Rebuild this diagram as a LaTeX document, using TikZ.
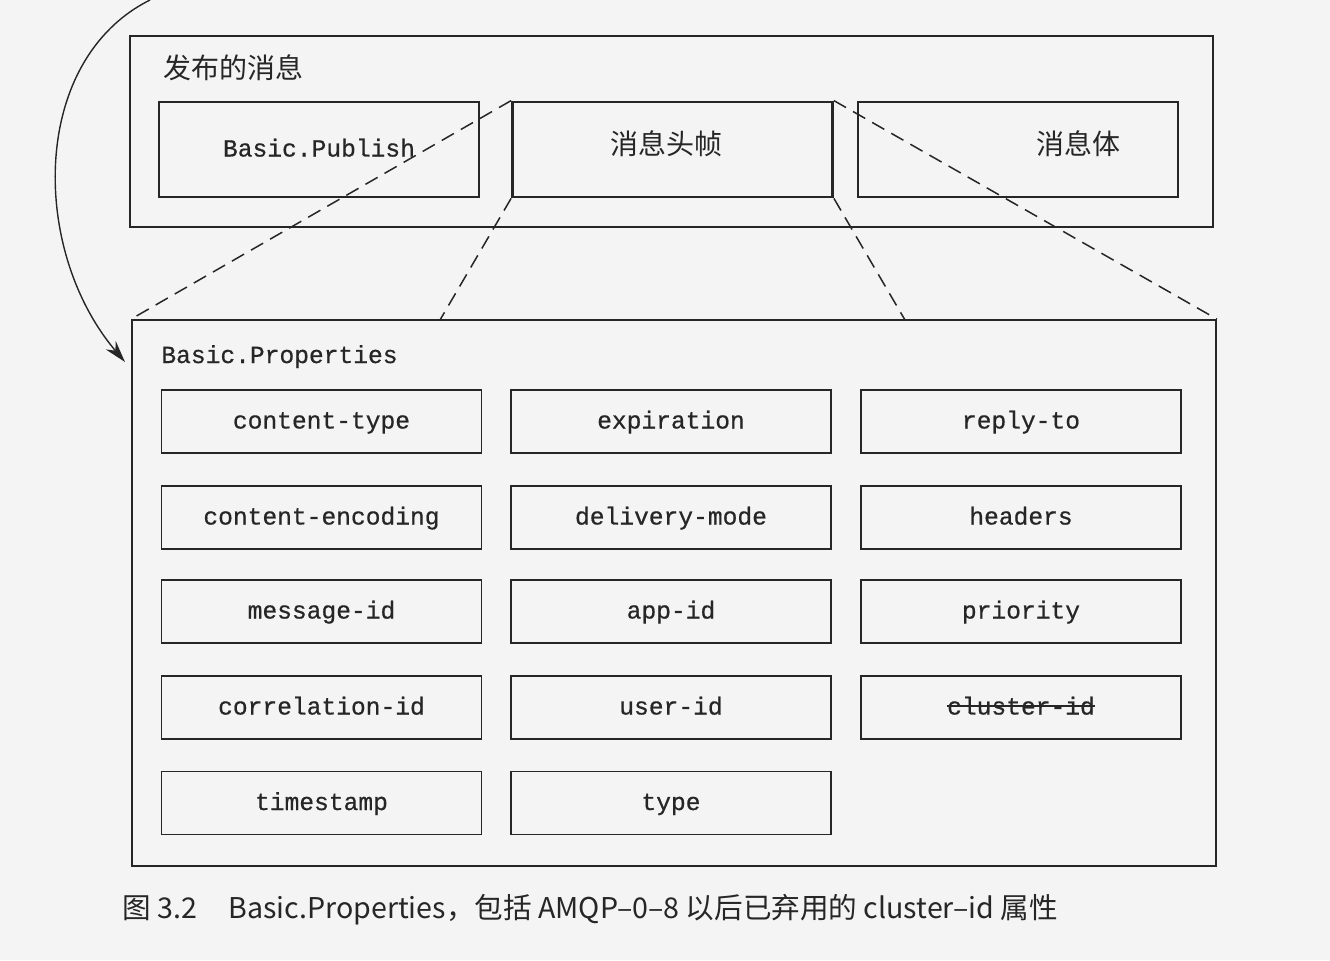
\documentclass[tikz,border=0pt]{standalone}
\usepackage{fontspec}
\setmonofont[FakeBold=0.6]{Liberation Mono}
\newfontfamily\cjk{Noto Sans CJK SC}
\usetikzlibrary{arrows.meta}
\definecolor{ink}{HTML}{262626}
\definecolor{paper}{HTML}{F4F4F4}

\begin{document}
\begin{tikzpicture}[x=0.5pt,y=-0.5pt,
		every node/.style={inner sep=0pt,text=ink},
		frame/.style={draw=ink,line width=0.9pt,rectangle},
		part/.style={frame,minimum width=160pt,minimum height=47.5pt},
		mono/.style={font=\ttfamily\fontsize{12.3}{14}\selectfont,text height=9.5pt,text depth=2.5pt},
		prop/.style={frame,mono,minimum width=160pt,minimum height=31.5pt},
		zoomline/.style={draw=ink,line width=0.75pt,dash pattern=on 7pt off 4pt},
		cn/.style={font=\cjk\fontsize{14}{16}\selectfont}]
		\useasboundingbox [fill=paper] (0,0) rectangle (1330,960);
		% published message
		\node [frame,minimum width=541.5pt,minimum height=95.5pt] (msg) at (671.5,131.5) {};
		\node [cn,anchor=west] (msglabel) at (163,68) {发布的消息};
		\node [part,mono] (pub) at (319,149.5) {Basic.Publish};
		\node [part,line width=1.4pt] (hdr) at (672.5,149.5) {};
		\node [cn] (hdrtxt) at ([xshift=-3pt,yshift=3pt]hdr.center) {消息头帧};
		\node [part] (body) at (1018,149.5) {};
		\node [cn] (bodytxt) at ([xshift=30pt,yshift=3pt]body.center) {消息体};
		% basic properties
		\node [frame,minimum width=542pt,minimum height=273pt] (props) at (674,593) {};
		\node [anchor=west,mono] (propslabel) at (161,356) {Basic.Properties};
		\foreach \name/\x/\y/\txt in {
				ctype/321.5/421.5/content-type, expir/671/421.5/expiration, reply/1021/421.5/reply-to,
				cenc/321.5/517.5/content-encoding, dmode/671/517.5/delivery-mode, hdrs/1021/517.5/headers,
				msgid/321.5/611.5/message-id, appid/671/611.5/app-id, prio/1021/611.5/priority,
				corr/321.5/707.5/correlation-id, user/671/707.5/user-id,
				tstamp/321.5/803/timestamp, type/671/803/type}
			\node [prop] (\name) at (\x,\y) {\txt};
		\node [prop] (clust) at (1021,707.5) {};
		\node [mono] (clusttxt) at (clust) {cluster-id};
		\draw [ink,line width=0.9pt] ([yshift=0.6pt]clusttxt.west) -- ([yshift=0.6pt]clusttxt.east);
		% zoom lines
		\coordinate (pl) at (440,320);
		\coordinate (pr) at (905,320);
		\draw [zoomline] (hdr.north west) -- (props.north west);
		\draw [zoomline] (hdr.south west) -- (pl);
		\draw [zoomline] (hdr.north east) -- (props.north east);
		\draw [zoomline] (hdr.south east) -- (pr);
		% arrow from top
		\coordinate (src) at (150,0);
		\coordinate (dst) at (125,362);
		\draw [ink,line width=0.7pt,-{Stealth[length=11pt,width=6.5pt]}] (src) .. controls (30,60) and (30,250) .. (dst);
		% caption
		\node [anchor=west,font=\cjk\fontsize{14.3}{16}\selectfont] (caption) at (122,910) {图 3.2\hspace{1.1em}Basic.Properties，包括 AMQP–0–8 以后已弃用的 cluster–id 属性};
	\end{tikzpicture}
\end{document}
